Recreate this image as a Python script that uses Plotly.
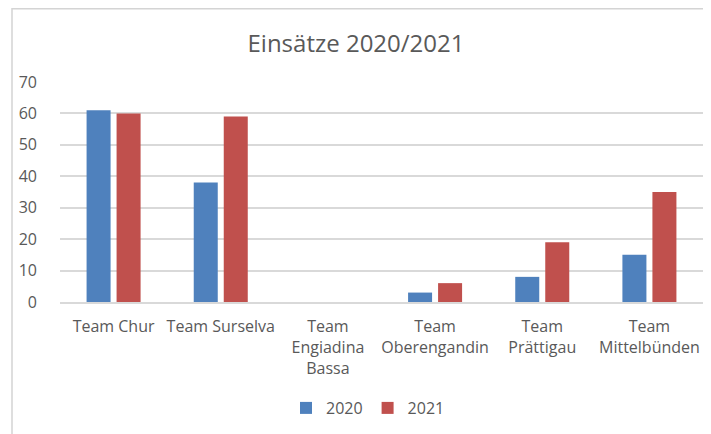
import plotly.graph_objects as go

categories = ["Team Chur", "Team Surselva", "Team<br>Engiadina<br>Bassa",
              "Team<br>Oberengandin", "Team<br>Prättigau", "Team<br>Mittelbünden"]
values_2020 = [61, 38, 0, 3, 8, 15]
values_2021 = [60, 59, 0, 6, 19, 35]
series_names = ["2020", "2021"]
y_ticks = [0, 10, 20, 30, 40, 50, 60, 70]

# page is offset by the 8px body margin
W, H = 703, 426
L, R, T, B = 52, 8, 74, 132
pw, ph = W - L - R, H - T - B

txt = "#595959"
fig = go.Figure()
fig.add_trace(go.Bar(x=categories, y=values_2020, name=series_names[0],
                     marker=dict(color="#4F81BD", line=dict(width=0))))
fig.add_trace(go.Bar(x=categories, y=values_2021, name=series_names[1],
                     marker=dict(color="#C0504D", line=dict(width=0))))

fig.update_layout(
    width=W, height=H,
    margin=dict(l=L, r=R, t=T, b=B),
    paper_bgcolor="white", plot_bgcolor="white",
    barmode="group", bargap=0.44, bargroupgap=0.2,
    font=dict(family="Open Sans", size=16, color=txt),
    title=dict(text="Einsätze 2020/2021", x=(356 - 8) / W, xref="container", xanchor="center",
               y=1 - 36 / H, yanchor="middle",
               font=dict(family="Open Sans", size=24, color=txt)),
    showlegend=True,
    legend=dict(orientation="h", x=(372 - 8 - 4 - L) / pw, xanchor="center",
                y=-(408 - 302) / ph, yanchor="middle",
                font=dict(size=16, color=txt), itemwidth=30, traceorder="normal"),
    xaxis=dict(showgrid=False, showline=True, linecolor="#D9D9D9", linewidth=1.5,
               ticks="", tickfont=dict(size=16, color=txt), tickangle=0,
               ticklabelstandoff=9),
    yaxis=dict(range=[0, 70], tickvals=y_ticks, showgrid=True, gridcolor="#D9D9D9",
               gridwidth=1.5, zeroline=False, showline=False, ticks="",
               ticklabelstandoff=22, tickfont=dict(size=16, color=txt)),
    shapes=[dict(type="rect", xref="paper", yref="paper",
                 x0=(4 - L) / pw, x1=1.1, y0=-1.0, y1=1 + (T - 0.75) / ph,
                 line=dict(color="#D4D4D4", width=1.5), layer="below")],
)

fig.write_html("out.html")
